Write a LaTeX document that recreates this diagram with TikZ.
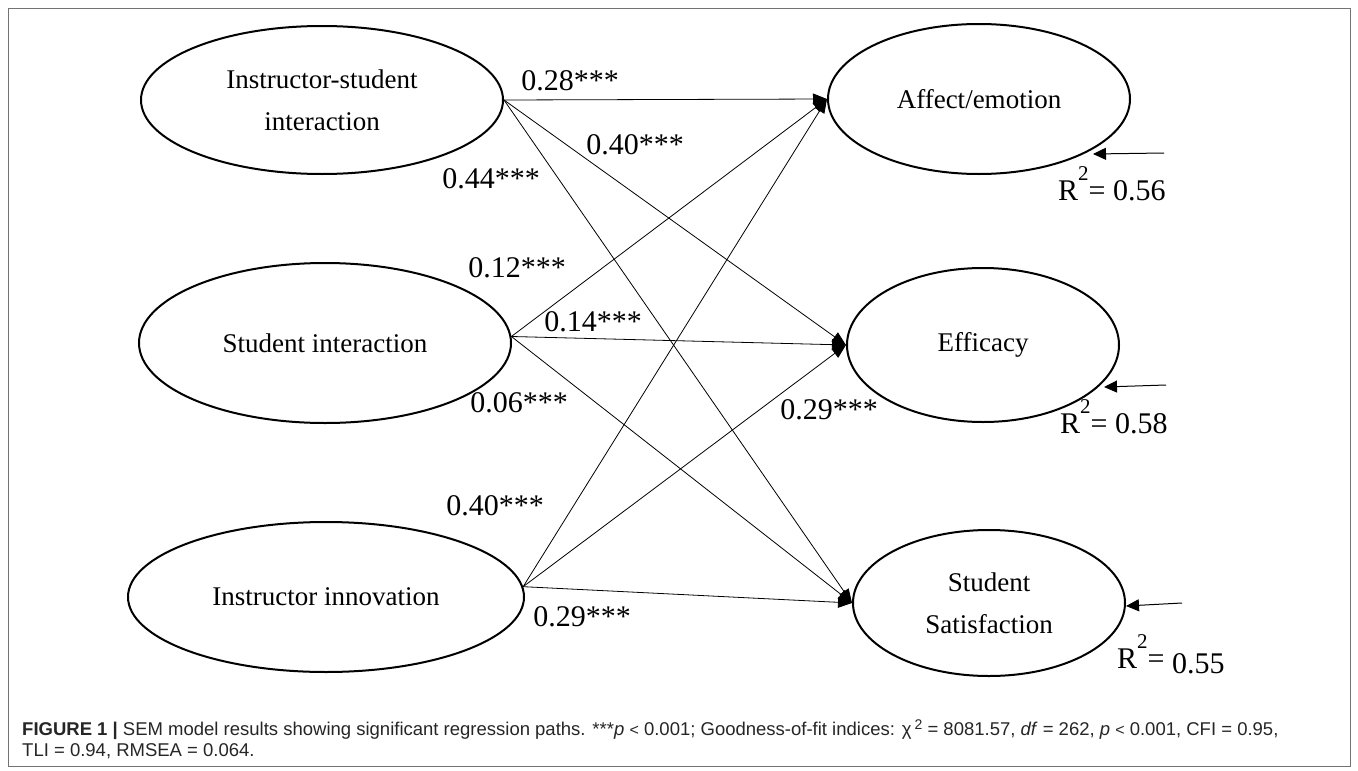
\documentclass[tikz,border=0pt]{standalone}
\usepackage{fontspec}
\setmainfont{Liberation Serif}
\newfontfamily\capfont{Liberation Sans}
\usetikzlibrary{shapes.geometric,arrows.meta}
\newcommand{\rsup}{\raisebox{20pt}{\fontsize{21}{21}\selectfont 2}}
\begin{document}
\begin{tikzpicture}[x=1pt,y=-1pt,
  lat/.style={draw=black,line width=2pt,ellipse,inner sep=0pt,align=center,
    font=\fontsize{27}{42}\selectfont},
  pathline/.style={line width=0.8pt,-{Triangle[length=14pt,width=11pt]}},
  resid/.style={line width=1pt,-{Triangle[length=13pt,width=12pt]}},
  coef/.style={font=\fontsize{30}{32}\selectfont,inner sep=0pt},
  rsq/.style={font=\fontsize{30}{32}\selectfont,inner sep=0pt,anchor=base west},
  captext/.style={font=\capfont\fontsize{18.5}{21}\selectfont,text=black!85,inner sep=0pt,anchor=west}]
\useasboundingbox (0,0) rectangle (1358,771);
\fill[white] (0,0) rectangle (1358,771);
\draw[black!55,line width=1pt] (8,8) rectangle (1350,766);
% latent variables
\node[lat,minimum width=362pt,minimum height=148pt] (isi) at (322,100) {Instructor-student\\interaction};
\node[lat,minimum width=372pt,minimum height=160pt] (si) at (325,343) {Student interaction};
\node[lat,minimum width=396pt,minimum height=150pt] (ii) at (326,597) {Instructor innovation};
\node[lat,minimum width=302pt,minimum height=150pt] (ae) at (979,99) {Affect/emotion};
\node[lat,minimum width=272pt,minimum height=154pt] (ef) at (983,345) {Efficacy};
\node[lat,minimum width=272pt,minimum height=146pt] (ss) at (989,603) {Student\\Satisfaction};
% paths
\draw[pathline] (isi.east) -- (ae.west);
\draw[pathline] (isi.east) -- (ef.west);
\draw[pathline] (isi.east) -- (ss.west);
\draw[pathline] (si.2) -- (ae.west);
\draw[pathline] (si.2) -- (ef.west);
\draw[pathline] (si.2) -- (ss.west);
\draw[pathline] (ii.3) -- (ae.west);
\draw[pathline] (ii.3) -- (ef.west);
\draw[pathline] (ii.3) -- (ss.west);
% coefficients
\node[coef] (c1) at (570,81) {0.28***};
\node[coef] (c2) at (635,145) {0.40***};
\node[coef] (c3) at (491,179) {0.44***};
\node[coef] (c4) at (517,268) {0.12***};
\node[coef] (c5) at (593,322) {0.14***};
\node[coef] (c6) at (519,403) {0.06***};
\node[coef] (c7) at (829,410) {0.29***};
\node[coef] (c8) at (495,506) {0.40***};
\node[coef] (c9) at (582,617) {0.29***};
% residuals
\coordinate (r1s) at (1164,153); \coordinate (r1e) at (1093,154);
\coordinate (r2s) at (1166,385); \coordinate (r2e) at (1104,387);
\coordinate (r3s) at (1182,603); \coordinate (r3e) at (1126,606);
\draw[resid] (r1s) -- (r1e);
\draw[resid] (r2s) -- (r2e);
\draw[resid] (r3s) -- (r3e);
\node[rsq] (q1) at (1058,200) {R\rsup= 0.56};
\node[rsq] (q2) at (1060,433) {R\rsup= 0.58};
\node[rsq] (q3) at (1117,668) {R\rsup= \raisebox{-5pt}{0.55}};
% caption
\node[captext] (cap1) at (22,730) {\textbf{FIGURE 1 |} SEM model results showing significant regression paths. ***\textit{p} {\fontsize{16}{16}\selectfont <} 0.001; Goodness-of-fit indices: χ\,\raisebox{6pt}{\fontsize{14}{14}\selectfont 2} = 8081.57, \textit{df} = 262, \textit{p} {\fontsize{16}{16}\selectfont <} 0.001, CFI = 0.95,};
\node[captext] (cap2) at (22,751) {TLI = 0.94, RMSEA = 0.064.};
\end{tikzpicture}
\end{document}
